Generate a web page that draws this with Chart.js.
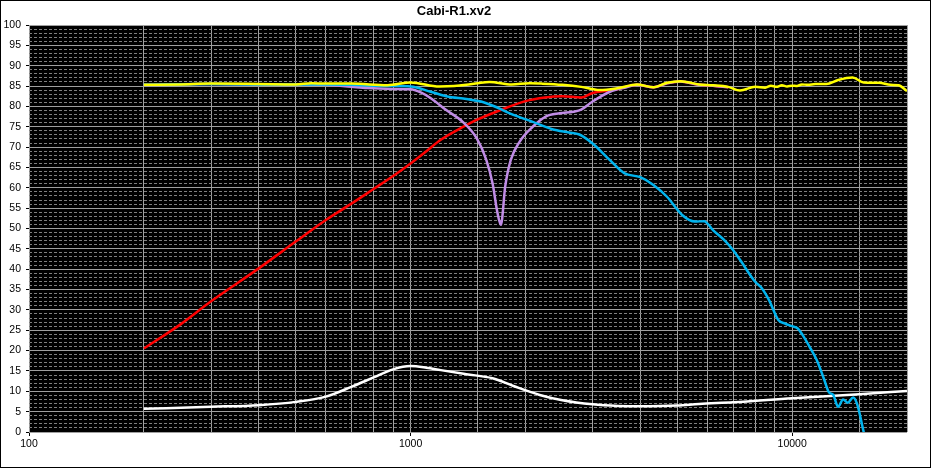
<!DOCTYPE html>
<html>
<head>
<meta charset="utf-8">
<script src="https://cdn.jsdelivr.net/npm/chart.js@4.4.1/dist/chart.umd.min.js"></script>
<style>
html,body{margin:0;padding:0;background:#fff;}
#wrap{width:931px;height:468px;}
canvas{display:block;}
</style>
</head>
<body>
<div id="wrap"><canvas id="c" width="931" height="468"></canvas></div>
<script>
// ---- Data ----
const chartTitle = "Cabi-R1.xv2";
const xLabelTicks = [100, 1000, 10000];

const yellowFreq = [200,250,300,400,500,550,600,700,870,1000,1190,1300,1400,1500,1610,1840,2050,2200,2500,2800,3130,3500,3920,4330,4700,5100,5700,6200,6800,7300,8000,8500,8800,9100,9400,9700,10000,10300,10600,11000,11500,12300,13200,14400,15400,16900,18100,19000,20000];
const yellowDb   = [85.3,85.4,85.6,85.5,85.4,85.7,85.6,85.6,85.2,85.9,84.9,85.0,85.3,85.7,86.0,85.4,85.7,85.6,85.3,84.8,84.0,84.5,85.4,84.7,85.8,86.2,85.4,85.2,84.8,83.9,84.8,84.6,85.1,84.8,85.2,84.9,85.1,85.0,85.4,85.3,85.5,85.5,86.5,87.1,85.9,85.8,85.3,85.2,83.8];

const cyanFreq = [200,300,400,500,600,700,800,900,1000,1130,1240,1400,1530,1650,1750,1860,2090,2350,2600,2770,3000,3330,3630,4000,4330,4700,5150,5560,5880,6200,6700,7000,7300,8000,8300,8700,9200,9600,10000,10330,10660,11100,11600,12100,12500,12800,13200,13600,14000,14450,14800,15400,16000];
const cyanDb   = [85.3,85.5,85.4,85.4,85.4,85.3,85.1,85.0,84.9,83.6,82.5,81.8,81.2,80.1,79.0,77.9,76.2,74.4,73.6,73.1,70.9,66.8,63.6,62.6,60.7,57.8,53.3,51.7,51.8,49.6,46.8,44.7,42.3,36.9,35.5,32.4,27.5,26.6,26.0,25.5,23.8,21.0,17.7,13.2,9.7,9.2,6.2,8.0,7.2,8.5,6.9,0.0,-6.0];

const purpleFreq = [200,300,400,500,600,700,770,900,1000,1070,1130,1240,1370,1490,1580,1640,1690,1725,1770,1830,1930,2090,2260,2460,2670,2800,3000,3330,3680,3920,4330,4700,5100,5700,6200,6800];
const purpleDb   = [85.3,85.5,85.4,85.4,85.3,84.8,84.5,84.3,84.2,83.3,82.0,79.1,76.2,72.2,66.8,61.1,53.8,50.9,60.3,66.8,71.3,75.0,77.5,78.3,78.7,79.2,81.2,83.6,84.7,85.3,84.7,85.7,86.1,85.3,85.1,84.7];

const redFreq = [200,250,300,400,500,600,700,800,900,1000,1100,1200,1350,1500,1700,2000,2250,2500,2800,3000,3300,3500,3920,4330,4700,5100,5700,6200,6800];
const redDb   = [20.5,26.5,32.1,40.2,46.8,52.1,56.1,59.7,62.9,66.0,69.0,71.8,74.6,76.8,78.9,81.3,82.2,82.5,82.2,83.3,83.9,84.3,85.3,84.7,85.7,86.1,85.3,85.1,84.7];

const whiteFreq = [200,300,400,500,600,700,800,900,1000,1100,1200,1400,1640,1860,2180,2500,3000,3500,4000,5000,5700,7000,10000,15000,20000];
const whiteDb   = [5.7,6.2,6.6,7.4,8.7,11.1,13.4,15.4,16.2,15.8,15.2,14.2,13.2,11.3,9.1,7.8,6.8,6.4,6.3,6.5,6.9,7.3,8.3,9.3,10.1];

function pts(f, v){ return f.map((x,i)=>({x:x, y:v[i]})); }

const FONT = "'Liberation Sans', Arial, sans-serif";

const plotBg = {
  id:'plotBg',
  beforeDraw(chart){
    const {ctx, chartArea:a} = chart;
    ctx.save();
    ctx.fillStyle = '#000';
    ctx.fillRect(a.left, a.top, a.right - a.left, a.bottom - a.top);
    ctx.restore();
  },
  afterDraw(chart){
    const ctx = chart.ctx;
    ctx.save();
    ctx.strokeStyle = '#000';
    ctx.lineWidth = 1;
    ctx.strokeRect(0.5, 0.5, chart.width - 1, chart.height - 1);
    ctx.fillStyle = '#000';
    ctx.font = "bold 13px " + FONT;
    ctx.textAlign = 'center';
    ctx.textBaseline = 'alphabetic';
    ctx.fillText(chartTitle, 454, 15);
    ctx.restore();
  }
};

const ds = (label, data, color) => ({
  label, data, borderColor: color, backgroundColor: color,
  borderWidth: 2.5, pointRadius: 0, fill: false,
  cubicInterpolationMode: 'monotone'
});

new Chart(document.getElementById('c'), {
  type: 'line',
  data: {
    datasets: [
      ds('Sum', pts(yellowFreq, yellowDb), '#ffff00'),
      ds('Woofer', pts(cyanFreq, cyanDb), '#00b4ee'),
      ds('Combined', pts(purpleFreq, purpleDb), '#c08ce6'),
      ds('Tweeter', pts(redFreq, redDb), '#ff0000'),
      ds('Impedance', pts(whiteFreq, whiteDb), '#ffffff')
    ]
  },
  options: {
    responsive: false,
    animation: false,
    events: [],
    layout: { padding: { top: 25, right: 24, left: 0, bottom: 0 } },
    plugins: { legend: { display: false }, title: { display: false }, tooltip: { enabled: false } },
    scales: {
      x: {
        type: 'logarithmic',
        min: 100, max: 20000,
        afterFit(s){ s.height = 36; },
        border: { display: false },
        grid: {
          color: '#a0a0a0', lineWidth: 1, tickLength: 4,
          tickColor: (c) => (c.tick && xLabelTicks.includes(c.tick.value)) ? '#000' : 'rgba(0,0,0,0)'
        },
        ticks: {
          autoSkip: false, maxRotation: 0, padding: 2, color: '#000',
          font: { family: FONT, size: 10.5 },
          callback: (v) => xLabelTicks.includes(v) ? String(v) : ''
        }
      },
      y: {
        min: 0, max: 100,
        afterFit(s){ s.width = 29; },
        border: {
          display: false,
          dash: (c) => (c.tick && c.tick.value % 5 !== 0) ? [3, 2] : []
        },
        grid: {
          lineWidth: 1, tickLength: 3,
          color: (c) => (c.tick && c.tick.value % 5 !== 0) ? '#808080' : '#a0a0a0',
          tickColor: (c) => (c.tick && c.tick.value % 5 === 0) ? '#000' : 'rgba(0,0,0,0)'
        },
        ticks: {
          stepSize: 1, autoSkip: false, padding: 5, color: '#000',
          font: { family: FONT, size: 10.5 },
          callback: (v) => (v % 5 === 0) ? String(v) : ''
        }
      }
    }
  },
  plugins: [plotBg]
});
</script>
</body>
</html>
